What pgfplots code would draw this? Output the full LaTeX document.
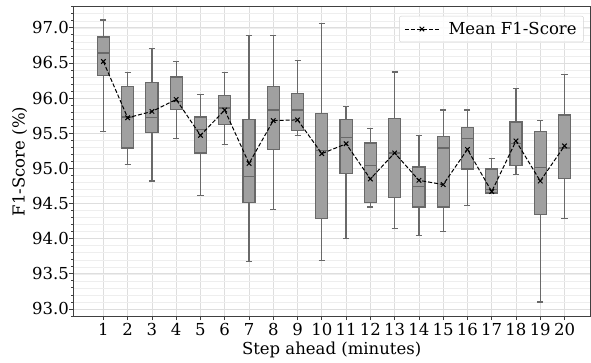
\documentclass[border=0pt]{standalone}
\usepackage{fontspec}
\setmainfont{DejaVu Serif}
\usepackage{pgfplots}
\pgfplotsset{compat=1.18}
\usepgfplotslibrary{statistics}
\definecolor{boxfill}{RGB}{160,160,160}
\definecolor{boxedge}{RGB}{105,105,105}
\definecolor{gridmaj}{RGB}{222,222,222}
\definecolor{gridmin}{RGB}{238,238,238}
\newcommand{\bx}[6]{\addplot[draw=boxedge, fill=boxfill, line width=1.2pt, forget plot,
  boxplot prepared={draw position=#1, lower whisker=#2, lower quartile=#3, median=#4,
  upper quartile=#5, upper whisker=#6}] coordinates {};}
\begin{document}
\begin{tikzpicture}
\useasboundingbox (-73.3pt,-46pt) rectangle (517.7pt,316pt);
\begin{axis}[
  at={(0pt,0pt)}, anchor=south west,
  scale only axis, width=516.7pt, height=309.3pt,
  xmin=-0.24, xmax=21.05, ymin=92.9, ymax=97.3,
  xtick={1,...,20},
  ytick={93,93.5,...,97},
  minor ytick={92.9,93.0,...,97.3},
  grid=both,
  major grid style={draw=gridmaj, line width=0.8pt},
  minor grid style={draw=gridmin, line width=0.5pt},
  axis line style={draw=black!75, line width=0.9pt},
  tick align=outside,
  major tick length=4pt, minor tick length=2pt,
  tick style={draw=black!75, line width=0.8pt},
  xtick pos=bottom, ytick pos=left,
  yticklabel style={xshift=3pt, /pgf/number format/.cd, fixed, fixed zerofill, precision=1, assume math mode=true},
  xticklabel style={/pgf/number format/assume math mode=true},
  ticklabel style={font=\fontsize{16.5}{19}\selectfont},
  xlabel={Step ahead (minutes)}, ylabel={F1-Score (\%)},
  label style={font=\fontsize{16.5}{19}\selectfont},
  xlabel style={yshift=1pt},
  ylabel style={yshift=-2pt},
  boxplot/draw direction=y,
  boxplot/box extend=0.5, boxplot/whisker extend=0.25,
  boxplot/every box/.style={draw=boxedge, fill=boxfill, line width=1.2pt},
  boxplot/every whisker/.style={draw=boxedge, line width=1.2pt},
  boxplot/every median/.style={draw=boxedge, line width=1.2pt},
  legend style={at={(0.988,0.970)}, anchor=north east, draw=black!18, rounded corners=2pt,
    fill=white, fill opacity=0.85, text opacity=1, font=\fontsize{16.5}{19}\selectfont,
    inner xsep=5pt, inner ysep=4pt},
  legend cell align=left,
  legend image code/.code={\draw[mark repeat=2, mark phase=2] plot coordinates {(0cm,0cm) (0.6cm,0cm) (1.2cm,0cm)};
    \path (1.45cm,0cm);},
]
\bx{1}{95.52}{96.32}{96.64}{96.87}{97.11}
\bx{2}{95.06}{95.29}{95.73}{96.17}{96.36}
\bx{3}{94.82}{95.51}{95.72}{96.22}{96.70}
\bx{4}{95.43}{95.84}{95.95}{96.30}{96.52}
\bx{5}{94.61}{95.22}{95.55}{95.73}{96.05}
\bx{6}{95.34}{95.62}{95.86}{96.04}{96.36}
\bx{7}{93.67}{94.52}{94.89}{95.69}{96.89}
\bx{8}{94.41}{95.27}{95.83}{96.16}{96.89}
\bx{9}{95.47}{95.54}{95.83}{96.07}{96.54}
\bx{10}{93.69}{94.29}{95.26}{95.78}{97.06}
\bx{11}{94.00}{94.93}{95.44}{95.69}{95.88}
\bx{12}{94.45}{94.52}{95.04}{95.36}{95.57}
\bx{13}{94.15}{94.59}{95.22}{95.71}{96.37}
\bx{14}{94.05}{94.45}{94.74}{95.02}{95.47}
\bx{15}{94.10}{94.45}{95.29}{95.45}{95.83}
\bx{16}{94.47}{94.99}{95.42}{95.58}{95.83}
\bx{17}{94.64}{94.65}{94.70}{94.99}{95.14}
\bx{18}{94.91}{95.04}{95.35}{95.66}{96.14}
\bx{19}{93.10}{94.34}{95.01}{95.52}{95.68}
\bx{20}{94.29}{94.86}{95.29}{95.76}{96.33}
\addplot[black, line width=1pt, dash pattern=on 4pt off 2pt, mark=x, mark size=3.2pt,
  mark options={solid, line width=1pt}] coordinates {
 (1,96.52) (2,95.72) (3,95.81) (4,95.98) (5,95.47) (6,95.83) (7,95.07) (8,95.68)
 (9,95.69) (10,95.21) (11,95.35) (12,94.85) (13,95.22) (14,94.83) (15,94.77)
 (16,95.27) (17,94.67) (18,95.39) (19,94.82) (20,95.32)};
\addlegendentry{Mean F1-Score}
\end{axis}
\end{tikzpicture}
\end{document}
